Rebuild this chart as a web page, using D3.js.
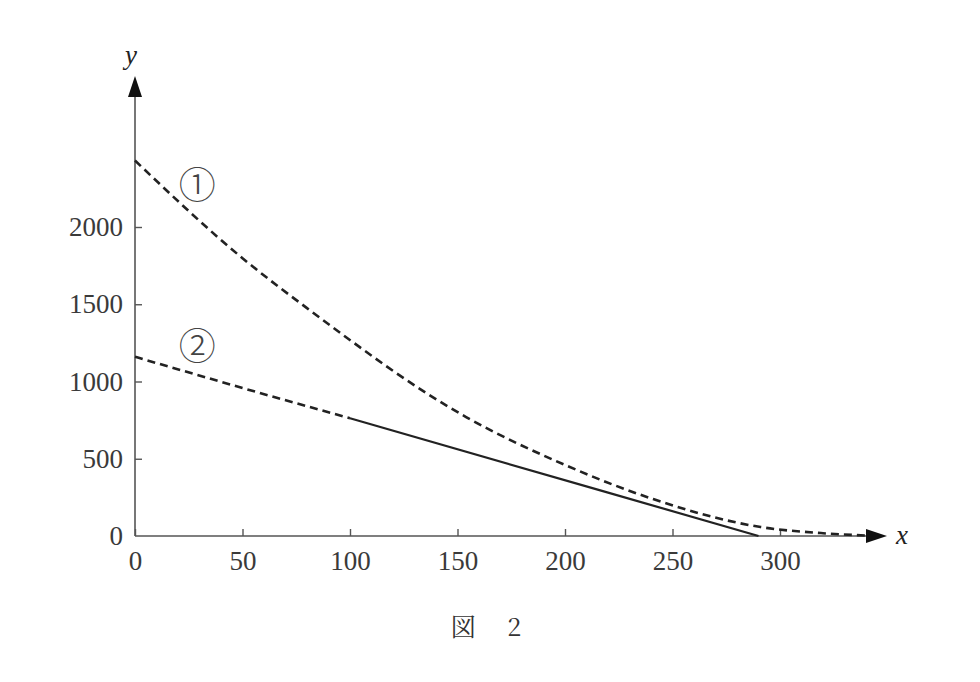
<!DOCTYPE html>
<html><head><meta charset="utf-8">
<script src="https://cdn.jsdelivr.net/npm/d3@7"></script>
<style>
html,body{margin:0;padding:0;background:#fff;}
svg{display:block;}
</style></head>
<body>
<script>
// ---- data ----
const xTicks = [0, 50, 100, 150, 200, 250, 300];
const yTicks = [0, 500, 1000, 1500, 2000];
// curve ① (dashed)
const curve1X = [0, 50, 80, 154, 200, 241, 291, 320, 340];
const curve1Y = [2430, 1798, 1475, 770, 460, 239, 58, 18, 3];
// curve ② dashed part and solid part
const curve2DashX = [0, 50, 100];
const curve2DashY = [1160, 958, 762];
const curve2SolidX = [100, 216, 290];
const curve2SolidY = [762, 297, 0];
const seriesLabels = ["①", "②"];
const caption = "図　 2";

const W = 980, H = 682;
const svg = d3.select("body").append("svg").attr("width", W).attr("height", H);

const x = d3.scaleLinear().domain([0, 300]).range([135, 780]);
const y = d3.scaleLinear().domain([0, 2000]).range([536, 227]);

const axisColor = "#555";
const textColor = "#3a3a3a";
const font = "'Liberation Serif','Times New Roman',serif";

// axes lines with arrows
svg.append("line").attr("x1", x(0)).attr("y1", y(0)).attr("x2", x(0)).attr("y2", 96)
  .attr("stroke", axisColor).attr("stroke-width", 1.6);
svg.append("path").attr("d", `M${x(0)},76 L${x(0)-7},97 L${x(0)+7},97 Z`).attr("fill", "#111");
svg.append("line").attr("x1", x(0)).attr("y1", y(0)).attr("x2", 868).attr("y2", y(0))
  .attr("stroke", axisColor).attr("stroke-width", 1.6);
svg.append("path").attr("d", `M887,${y(0)} L866,${y(0)-7} L866,${y(0)+7} Z`).attr("fill", "#111");

// tick axes
const gx = svg.append("g").attr("transform", `translate(0,${y(0)})`)
  .call(d3.axisBottom(x).tickValues(xTicks).tickSize(-7).tickPadding(15).tickFormat(d3.format("d")));
const gy = svg.append("g").attr("transform", `translate(${x(0)},0)`)
  .call(d3.axisLeft(y).tickValues(yTicks.slice(1)).tickSize(-7).tickPadding(12).tickFormat(d3.format("d")));
[gx, gy].forEach(g => {
  g.select(".domain").remove();
  g.selectAll(".tick line").attr("stroke", axisColor).attr("stroke-width", 1.4);
  g.selectAll(".tick text").attr("fill", textColor).style("font-family", font).style("font-size", "27px");
});
// y-axis "0" label
svg.append("text").attr("x", x(0) - 12).attr("y", y(0)).attr("dy", "0.32em")
  .attr("text-anchor", "end").attr("fill", textColor)
  .style("font-family", font).style("font-size", "27px").text(d3.format("d")(yTicks[0]));

// axis labels
svg.append("text").attr("x", 131).attr("y", 64).attr("text-anchor", "middle")
  .style("font-family", font).style("font-style", "italic").style("font-size", "27px").attr("fill", "#222").text("y");
svg.append("text").attr("x", 902).attr("y", 544).attr("text-anchor", "middle")
  .style("font-family", font).style("font-style", "italic").style("font-size", "27px").attr("fill", "#222").text("x");

// lines
const line = d3.line().x(d => x(d[0])).y(d => y(d[1])).curve(d3.curveMonotoneX);
const c1 = curve1X.map((v, i) => [v, curve1Y[i]]);
const c2d = curve2DashX.map((v, i) => [v, curve2DashY[i]]);
const c2s = curve2SolidX.map((v, i) => [v, curve2SolidY[i]]);

svg.append("path").attr("d", line(c1)).attr("fill", "none").attr("stroke", "#222")
  .attr("stroke-width", 2.6).attr("stroke-dasharray", "8,5");
svg.append("path").attr("d", line(c2d)).attr("fill", "none").attr("stroke", "#222")
  .attr("stroke-width", 2.6).attr("stroke-dasharray", "8,5");
svg.append("path").attr("d", d3.line().x(d => x(d[0])).y(d => y(d[1]))(c2s)).attr("fill", "none").attr("stroke", "#222")
  .attr("stroke-width", 2.2);

// series labels
svg.append("text").attr("x", x(29)).attr("y", y(2265)).attr("text-anchor", "middle").attr("dy", "0.35em")
  .style("font-family", "'Noto Sans CJK JP', sans-serif").style("font-size", "37px").style("font-weight", "300").attr("fill", "#444").text(seriesLabels[0]);
svg.append("text").attr("x", x(29)).attr("y", y(1225)).attr("text-anchor", "middle").attr("dy", "0.35em")
  .style("font-family", "'Noto Sans CJK JP', sans-serif").style("font-size", "37px").style("font-weight", "300").attr("fill", "#444").text(seriesLabels[1]);

// caption
svg.append("text").attr("x", 486).attr("y", 636).attr("text-anchor", "middle")
  .style("font-family", "'Noto Serif CJK JP','Noto Sans CJK JP', serif").style("font-size", "25px").attr("fill", "#333")
  .attr("xml:space", "preserve").style("white-space", "pre").text(caption);
</script>
</body></html>
